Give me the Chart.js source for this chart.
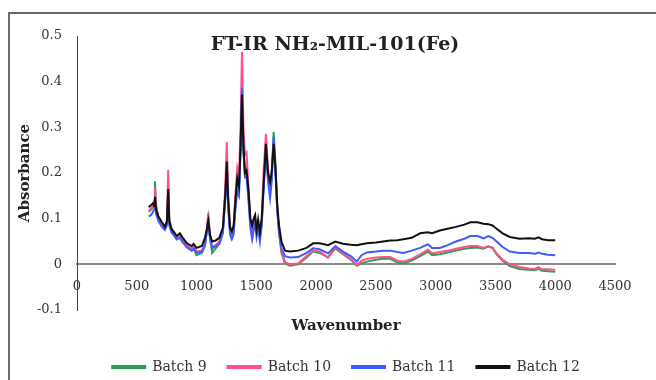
<!DOCTYPE html>
<html>
<head>
<meta charset="utf-8">
<title>FT-IR NH2-MIL-101(Fe)</title>
<script src="https://cdn.jsdelivr.net/npm/chart.js@4.4.1/dist/chart.umd.min.js"></script>
<style>
  html, body { margin: 0; padding: 0; background: #fff; }
  canvas { display: block; }
</style>
</head>
<body>
<canvas id="ftirChart" width="656" height="380"></canvas>
<script>
// wavenumber (cm-1) for every sample, shared by all batches
var wavenumbers = [
    600, 620, 636, 645, 652, 662, 680, 710, 735, 752,
    763, 772, 790, 835, 860, 885, 920, 960, 975, 1000,
    1045, 1070, 1085, 1098, 1112, 1130, 1160, 1190, 1220, 1240,
    1253, 1265, 1280, 1295, 1310, 1325, 1340, 1355, 1368, 1380,
    1392, 1405, 1418, 1432, 1450, 1465, 1478, 1490, 1502, 1515,
    1530, 1545, 1560, 1580, 1598, 1615, 1628, 1645, 1660, 1675,
    1690, 1710, 1740, 1780, 1850, 1920, 1975, 2030, 2100, 2160,
    2225, 2290, 2340, 2380, 2425, 2500, 2560, 2620, 2680, 2730,
    2800, 2870, 2935, 2970, 3035, 3100, 3170, 3240, 3290, 3350,
    3400, 3440, 3475, 3510, 3560, 3620, 3700, 3780, 3830, 3860,
    3890, 3940, 4000
];

var batch9 = [
    0.115, 0.12, 0.125, 0.14, 0.182, 0.13, 0.1, 0.088, 0.08, 0.09,
    0.17, 0.09, 0.072, 0.055, 0.06, 0.05, 0.038, 0.03, 0.035, 0.02,
    0.025, 0.04, 0.07, 0.1, 0.06, 0.025, 0.035, 0.045, 0.07, 0.15,
    0.22, 0.13, 0.075, 0.06, 0.075, 0.13, 0.19, 0.17, 0.25, 0.36,
    0.25, 0.2, 0.21, 0.16, 0.09, 0.06, 0.08, 0.095, 0.07, 0.085,
    0.06, 0.09, 0.17, 0.26, 0.2, 0.16, 0.19, 0.29, 0.22, 0.12,
    0.07, 0.025, 0.002, -0.003, 0.0, 0.015, 0.028, 0.025, 0.015, 0.035,
    0.022, 0.01, -0.003, 0.002, 0.006, 0.01, 0.012, 0.012, 0.004, 0.002,
    0.008, 0.018, 0.028, 0.02, 0.022, 0.026, 0.03, 0.034, 0.036, 0.037,
    0.034, 0.039, 0.037, 0.022, 0.008, -0.004, -0.01, -0.012, -0.013, -0.01,
    -0.014, -0.015, -0.016
];

var batch10 = [
    0.118, 0.122, 0.13, 0.14, 0.168, 0.125, 0.105, 0.09, 0.082, 0.095,
    0.207, 0.1, 0.078, 0.06, 0.065, 0.055, 0.042, 0.035, 0.04, 0.028,
    0.03, 0.045, 0.075, 0.113, 0.065, 0.038, 0.042, 0.05, 0.075, 0.17,
    0.268, 0.15, 0.085, 0.07, 0.08, 0.15, 0.21, 0.19, 0.3, 0.465,
    0.3, 0.24, 0.245, 0.18, 0.1, 0.07, 0.09, 0.1, 0.075, 0.09,
    0.065, 0.1, 0.2, 0.285, 0.21, 0.17, 0.2, 0.27, 0.21, 0.12,
    0.07, 0.03, 0.005, 0, 0.002, 0.018, 0.03, 0.028, 0.015, 0.038,
    0.024, 0.012, -0.002, 0.008, 0.012, 0.015, 0.016, 0.016, 0.008, 0.006,
    0.012, 0.022, 0.032, 0.024, 0.027, 0.03, 0.034, 0.038, 0.04, 0.04,
    0.036, 0.04, 0.035, 0.024, 0.01, 0, -0.006, -0.009, -0.01, -0.006,
    -0.011, -0.011, -0.012
];

var batch11 = [
    0.105, 0.108, 0.115, 0.12, 0.135, 0.11, 0.095, 0.082, 0.075, 0.085,
    0.15, 0.085, 0.07, 0.055, 0.058, 0.048, 0.037, 0.03, 0.035, 0.025,
    0.028, 0.042, 0.07, 0.1, 0.058, 0.035, 0.04, 0.045, 0.068, 0.14,
    0.21, 0.12, 0.065, 0.055, 0.065, 0.12, 0.16, 0.15, 0.25, 0.387,
    0.25, 0.19, 0.19, 0.15, 0.08, 0.055, 0.075, 0.09, 0.06, 0.08,
    0.05, 0.085, 0.16, 0.25, 0.18, 0.145, 0.18, 0.28, 0.2, 0.12,
    0.07, 0.035, 0.018, 0.015, 0.016, 0.025, 0.035, 0.033, 0.024, 0.04,
    0.028, 0.018, 0.006, 0.02, 0.026, 0.028, 0.03, 0.03, 0.027, 0.025,
    0.03, 0.036, 0.044, 0.036, 0.036, 0.042, 0.05, 0.056, 0.062, 0.062,
    0.057, 0.062, 0.058, 0.05, 0.038, 0.028, 0.025, 0.025, 0.023, 0.026,
    0.023, 0.021, 0.02
];

var batch12 = [
    0.125, 0.13, 0.134, 0.128, 0.148, 0.12, 0.105, 0.092, 0.082, 0.095,
    0.165, 0.095, 0.078, 0.062, 0.068, 0.058, 0.046, 0.04, 0.045, 0.036,
    0.04, 0.058, 0.075, 0.095, 0.065, 0.05, 0.052, 0.058, 0.08, 0.15,
    0.225, 0.14, 0.08, 0.072, 0.085, 0.14, 0.188, 0.17, 0.26, 0.372,
    0.26, 0.2, 0.205, 0.17, 0.1, 0.085, 0.1, 0.108, 0.075, 0.098,
    0.07, 0.1, 0.17, 0.264, 0.2, 0.18, 0.2, 0.264, 0.21, 0.13,
    0.085, 0.05, 0.03, 0.028, 0.03, 0.036, 0.046, 0.046, 0.042, 0.05,
    0.045, 0.043, 0.042, 0.044, 0.046, 0.048, 0.05, 0.052, 0.053, 0.055,
    0.058, 0.068, 0.07, 0.068, 0.074, 0.078, 0.082, 0.087, 0.092, 0.092,
    0.089, 0.088, 0.085, 0.078, 0.068, 0.06, 0.056, 0.057, 0.056, 0.059,
    0.055, 0.053, 0.053
];

var batchNames = ["Batch 9", "Batch 10", "Batch 11", "Batch 12"];
var batchColors = ["#2f9e50", "#ff4f8e", "#3f5cff", "#111111"];
var xTicks = { min: 0, max: 4500, step: 500 };
var yTicks = { min: -0.1, max: 0.5, step: 0.1 };

Chart.defaults.font.family = "'DejaVu Serif', serif";
Chart.defaults.color = "#333";

function toPoints(values) {
    return wavenumbers.map(function (wn, i) { return { x: wn, y: values[i] }; });
}

var series = [batch9, batch10, batch11, batch12];
var datasets = series.map(function (values, i) {
    return {
        label: batchNames[i],
        data: toPoints(values),
        borderColor: batchColors[i],
        backgroundColor: batchColors[i],
        borderWidth: 2,
        pointRadius: 0,
        tension: 0,
        xAxisID: "x",
        yAxisID: "y",
        // later batches sit on top
        order: series.length - i
    };
});

// outer frame and the title that sits inside the plot
var frameAndTitle = {
    id: "frameAndTitle",
    beforeDraw: function (chart) {
        var ctx = chart.ctx;
        ctx.save();
        ctx.fillStyle = "#fff";
        ctx.fillRect(0, 0, chart.width, chart.height);
        ctx.strokeStyle = "#6b6b6b";
        ctx.lineWidth = 2;
        ctx.beginPath();
        ctx.moveTo(9, chart.height);
        ctx.lineTo(9, 13);
        ctx.lineTo(chart.width, 13);
        ctx.stroke();
        ctx.restore();
    },
    afterDraw: function (chart) {
        var ctx = chart.ctx;
        ctx.save();
        ctx.fillStyle = "#222";
        ctx.font = "bold 19px 'DejaVu Serif', serif";
        ctx.textAlign = "center";
        ctx.textBaseline = "middle";
        ctx.fillText("FT-IR NH\u2082-MIL-101(Fe)", 335, 45);
        ctx.restore();
    }
};

var ctx = document.getElementById("ftirChart").getContext("2d");
var chart = new Chart(ctx, {
    type: "line",
    data: { datasets: datasets },
    options: {
        responsive: false,
        animation: false,
        layout: { padding: { left: 10, right: 41, top: 36, bottom: -4 } },
        plugins: {
            legend: {
                position: "bottom",
                fullSize: false,
                labels: {
                    boxWidth: 33,
                    boxHeight: 2,
                    padding: 21,
                    color: "#333",
                    font: { size: 14 },
                    sort: function (a, b) { return a.datasetIndex - b.datasetIndex; }
                }
            },
            tooltip: { enabled: false }
        },
        scales: {
            x: {
                type: "linear",
                position: { y: 0 },
                min: xTicks.min,
                max: xTicks.max,
                ticks: {
                    stepSize: xTicks.step,
                    padding: 14,
                    font: { size: 13 },
                    color: "#333",
                    callback: function (v) { return String(v); }
                },
                grid: { display: false, drawTicks: false },
                border: { color: "#8a8a8a", width: 2 }
            },
            // bottom axis only carries the axis title
            xTitle: {
                type: "linear",
                axis: "x",
                position: "bottom",
                ticks: { display: false },
                grid: { display: false, drawTicks: false },
                border: { display: false },
                title: {
                    display: true,
                    text: "Wavenumber",
                    color: "#222",
                    font: { size: 15, weight: "bold" },
                    padding: { top: 7, bottom: 4 }
                }
            },
            y: {
                type: "linear",
                min: yTicks.min,
                max: yTicks.max,
                ticks: {
                    stepSize: yTicks.step,
                    padding: 15,
                    font: { size: 13 },
                    color: "#333",
                    callback: function (v) {
                        var r = Math.round(v * 10) / 10;
                        return r === 0 ? "0" : String(r);
                    }
                },
                grid: { display: false, drawTicks: false },
                border: { color: "#404040", width: 1 },
                title: {
                    display: true,
                    text: "Absorbance",
                    color: "#222",
                    font: { size: 15, weight: "bold" },
                    padding: { top: 6, bottom: 4 }
                },
                afterFit: function (scale) { scale.width = 67; }
            }
        }
    },
    plugins: [frameAndTitle]
});
</script>
</body>
</html>
